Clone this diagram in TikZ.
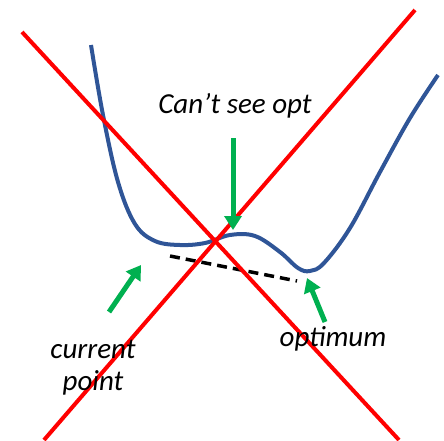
\documentclass[tikz,border=0pt]{standalone}
\usepackage{fontspec}
\setmainfont{Carlito}
\usetikzlibrary{arrows.meta}
\definecolor{cblue}{RGB}{47,85,151}
\definecolor{cgreen}{RGB}{0,176,80}
\tikzset{
  redline/.style={draw=red, line width=4pt},
  curve/.style={draw=cblue, line width=4pt},
  garrow/.style={draw=cgreen, line width=5pt, -{Triangle[length=14pt,width=17pt]}},
  lbl/.style={font=\itshape\fontsize{29}{34}\selectfont, text=black, inner sep=0pt}
}
\begin{document}
\begin{tikzpicture}[x=1pt,y=-1pt]
\useasboundingbox (0,0) rectangle (444,440);
\coordinate (r1a) at (22,32); \coordinate (r1b) at (399,440);
\coordinate (r2a) at (44,440); \coordinate (r2b) at (415,10);
\draw[curve] plot[smooth, tension=0.6] coordinates {(91,45) (103,115) (118,182) (135,224) (155,241) (180,245) (205,243) (230,235) (255,236) (280,252) (298,268) (310,271) (324,263) (350,228) (380,172) (410,118) (438,75)};
\draw[black, line width=3.5pt, dash pattern=on 10pt off 6pt] (170,256) -- (297,281);
\draw[redline] (r1a) -- (r1b);
\draw[redline] (r2a) -- (r2b);
\node[lbl] (t1) at (235,106) {Can’t see opt};
\node[lbl] (t2) at (93,349) {current};
\node[lbl] (t3) at (93,383) {point};
\node[lbl] (t4) at (333,339) {optimum};
\coordinate (a1s) at (233,138); \coordinate (a1e) at (233,230);
\coordinate (a2s) at (109,312); \coordinate (a2e) at (141,265);
\coordinate (a3s) at (325,322); \coordinate (a3e) at (307,278);
\draw[garrow] (a1s) -- (a1e);
\draw[garrow] (a2s) -- (a2e);
\draw[garrow] (a3s) -- (a3e);
\end{tikzpicture}
\end{document}
